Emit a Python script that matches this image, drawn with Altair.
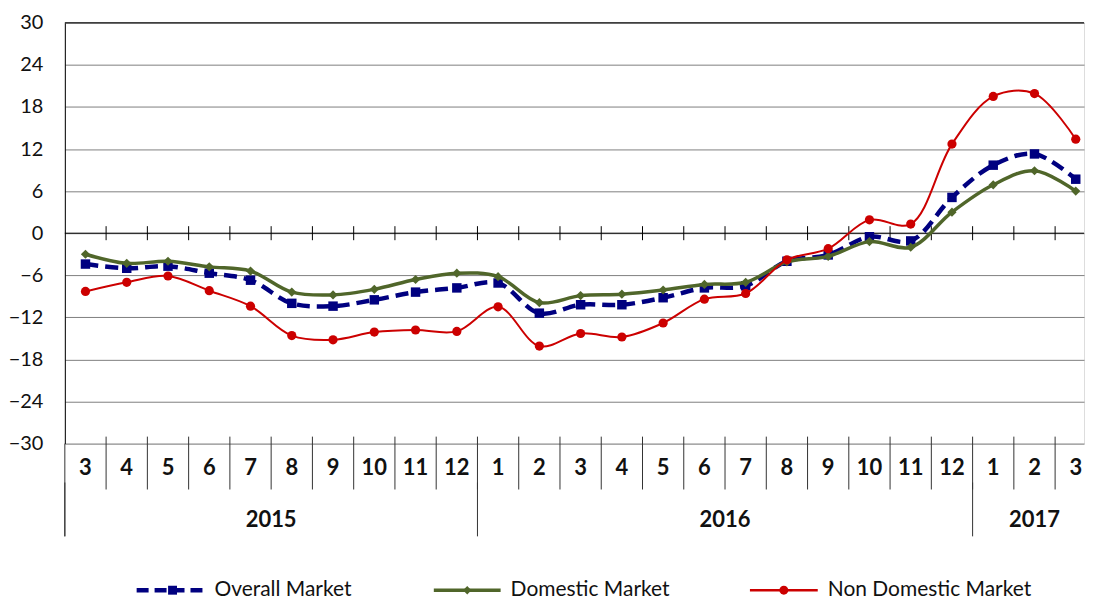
import altair as alt
import pandas as pd

# ---- data ----
months = [3, 4, 5, 6, 7, 8, 9, 10, 11, 12,
          1, 2, 3, 4, 5, 6, 7, 8, 9, 10, 11, 12,
          1, 2, 3]
years = ["2015", "2016", "2017"]
year_counts = [10, 12, 3]

overall = [-4.4, -5.0, -4.7, -5.7, -6.7, -10.0, -10.4, -9.5, -8.4, -7.8,
           -7.1, -11.4, -10.2, -10.2, -9.2, -7.8, -7.5, -4.0, -3.1, -0.5, -1.1, 5.1,
           9.7, 11.3, 7.7]
domestic = [-3.0, -4.3, -4.0, -4.8, -5.4, -8.4, -8.8, -8.0, -6.6, -5.7,
            -6.2, -9.9, -8.9, -8.7, -8.1, -7.3, -7.0, -4.1, -3.3, -1.2, -2.0, 3.0,
            6.9, 8.9, 6.0]
non_domestic = [-8.3, -7.0, -6.1, -8.2, -10.4, -14.6, -15.2, -14.1, -13.8, -14.0,
                -10.5, -16.1, -14.3, -14.8, -12.8, -9.4, -8.6, -3.8, -2.2, 1.9, 1.3, 12.7,
                19.5, 19.9, 13.4]
series_names = ["Overall Market", "Domestic Market", "Non Domestic Market"]

W, H = 1022, 422
FONT = "Lato"
n = len(months)
idx = list(range(n))

xscale = alt.Scale(domain=[-0.5, 24.2], nice=False, zero=False)
X = lambda f: alt.X(f, type="quantitative", scale=xscale, axis=None)
yscale = alt.Scale(domain=[-30, 30], nice=False, zero=False)
Y = alt.Y("v:Q", scale=yscale, title=None,
          axis=alt.Axis(values=list(range(-30, 31, 6)), grid=True, gridColor="#808080",
                        gridWidth=1, ticks=False, labelFont=FONT, labelFontSize=20,
                        labelColor="#111", labelPadding=22, domainColor="black",
                        domainWidth=1, minExtent=55, maxExtent=55))

def series(vals, color, width, dash, shape, size):
    df = pd.DataFrame({"i": idx, "v": vals})
    base = alt.Chart(df)
    line_kw = dict(color=color, strokeWidth=width, interpolate="catmull-rom")
    if dash:
        line_kw["strokeDash"] = dash
    line = base.mark_line(**line_kw).encode(x=X("i"), y=Y)
    pts = base.mark_point(filled=True, opacity=1, color=color, shape=shape,
                          size=size).encode(x=X("i"), y=Y)
    return [line, pts]

layers = []

# zero line and top border
one = pd.DataFrame({"a": [0]})
layers.append(alt.Chart(one).mark_rule(color="black", strokeWidth=1).encode(y=alt.datum(0)))
layers.append(alt.Chart(one).mark_rule(color="black", strokeWidth=1).encode(y=alt.datum(30)))

# tick marks on the zero line at category boundaries
bounds = pd.DataFrame({"b": [k + 0.5 for k in range(n - 1)]})
layers.append(alt.Chart(bounds).mark_rule(color="black", strokeWidth=1).encode(
    x=X("b"), y=alt.datum(-1), y2=alt.datum(1)))

# month boundary lines in the category label area
layers.append(alt.Chart(bounds).mark_rule(color="#333", strokeWidth=1).encode(
    x=X("b"), y=alt.value(H - 7), y2=alt.value(H + 46)))

# year boundary lines (left edge and between years)
yb = [-0.5]
acc = -0.5
for c in year_counts[:-1]:
    acc += c
    yb.append(acc)
ydf = pd.DataFrame({"b": yb})
layers.append(alt.Chart(pd.DataFrame({"b": [-0.5]})).mark_rule(color="#333", strokeWidth=1).encode(
    x=X("b"), y=alt.value(H), y2=alt.value(H + 93)))
layers.append(alt.Chart(ydf).mark_rule(color="#333", strokeWidth=1).encode(
    x=X("b"), y=alt.value(H + 39), y2=alt.value(H + 93)))

# series
layers += series(overall, "#000080", 4.5, [13, 7], "square", 90)
layers += series(domestic, "#50662A", 3.5, None, "diamond", 85)
layers += series(non_domestic, "#CC0000", 2, None, "circle", 85)

# month labels
mdf = pd.DataFrame({"i": idx, "m": [str(m) for m in months]})
layers.append(alt.Chart(mdf).mark_text(font=FONT, fontSize=22, fontWeight="bold",
                                       color="#111", baseline="middle").encode(
    x=X("i"), y=alt.value(H + 24), text="m:N"))

# year labels centred under their months
centers = []
start = 0
for c in year_counts:
    centers.append(start + (c - 1) / 2)
    start += c
ylab = pd.DataFrame({"i": centers, "y": years})
layers.append(alt.Chart(ylab).mark_text(font=FONT, fontSize=22, fontWeight="bold",
                                        color="#111", baseline="middle").encode(
    x=X("i"), y=alt.value(H + 77), text="y:N"))

# custom legend
leg_y = H + 147
leg = [
    (series_names[0], "#000080", 4.5, [12, 6], "square", 80, 72, 144, 150),
    (series_names[1], "#50662A", 3.5, None, "diamond", 70, 370, 437, 447),
    (series_names[2], "#CC0000", 2.5, None, "circle", 80, 687, 755, 765),
]
for name, col, sw, dash, shp, sz, x0, x1, tx in leg:
    lk = dict(color=col, strokeWidth=sw)
    if dash:
        lk["strokeDash"] = dash
    layers.append(alt.Chart(one).mark_rule(**lk).encode(
        x=alt.value(x0), x2=alt.value(x1), y=alt.value(leg_y)))
    layers.append(alt.Chart(one).mark_point(filled=True, opacity=1, color=col, shape=shp,
                                            size=sz).encode(
        x=alt.value((x0 + x1) / 2), y=alt.value(leg_y)))
    layers.append(alt.Chart(pd.DataFrame({"t": [name]})).mark_text(
        font=FONT, fontSize=21, color="#111", align="left", baseline="middle").encode(
        x=alt.value(tx), y=alt.value(leg_y), text="t:N"))

chart = alt.layer(*layers).properties(
    width=W, height=H,
    padding={"left": 0, "top": 4, "right": 0, "bottom": 0},
).configure_view(stroke=None).configure(background="white")

chart.save("out.html", embed_options={"renderer": "svg", "actions": False})
